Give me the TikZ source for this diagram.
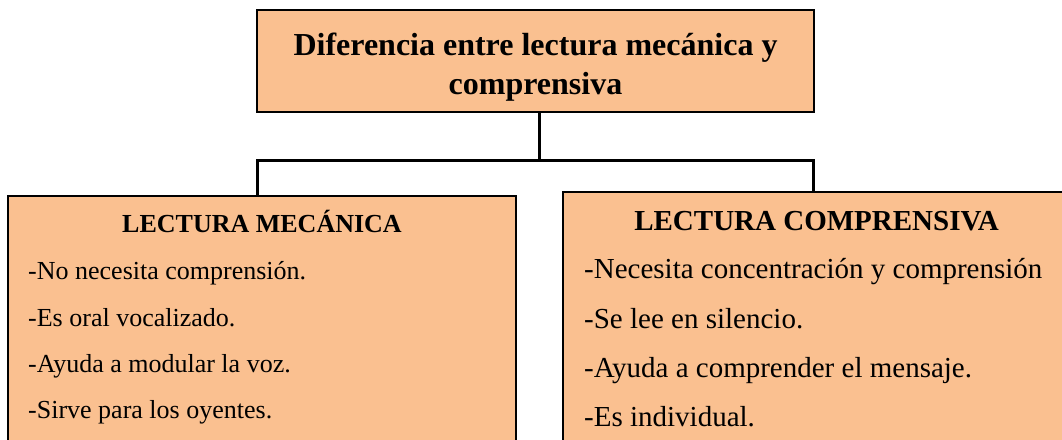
\documentclass[tikz,border=0pt]{standalone}
\usepackage{fontspec}
\setmainfont{Liberation Serif}
\definecolor{peach}{HTML}{FAC090}
\begin{document}
\begin{tikzpicture}[x=1pt,y=-1pt,
  boxstyle/.style={draw=black,line width=1.5pt,fill=peach,rectangle,inner sep=0pt},
  link/.style={draw=black,line width=3pt},
  titletext/.style={font=\fontsize{32}{39}\selectfont\bfseries,align=center,inner sep=0pt},
  headL/.style={font=\fontsize{26}{30}\selectfont\bfseries,inner sep=0pt,anchor=base},
  itemL/.style={font=\fontsize{26}{30}\selectfont,inner sep=0pt,anchor=base west},
  headR/.style={font=\fontsize{29}{33}\selectfont\bfseries,inner sep=0pt,anchor=base},
  itemR/.style={font=\fontsize{29}{33}\selectfont,inner sep=0pt,anchor=base west}]
\useasboundingbox[fill=white] (0,0) rectangle (1062,439);
% boxes
\node[boxstyle,minimum width=557pt,minimum height=102pt] (top) at (535.5,61) {};
\node[boxstyle,minimum width=508pt,minimum height=249pt] (left) at (262,320.5) {};
\node[boxstyle,minimum width=512pt,minimum height=253pt] (right) at (819,318.5) {};
% title
\node[titletext] (title) at (535.5,67) {Diferencia entre lectura mecánica y\\comprensiva};
% connectors
\coordinate (j) at (539,160);
\coordinate (hl) at (257,160);
\coordinate (hr) at (813,160);
\draw[link] (top.south -| j) -- (j);
\draw[link,line cap=rect] (hl) -- (hr);
\draw[link] (hl) -- (hl |- left.north);
\draw[link] (hr) -- (hr |- right.north);
% left texts
\node[headL] (lh) at (262,232) {LECTURA MECÁNICA};
\node[itemL] (l1) at (28,279) {-No necesita comprensión.};
\node[itemL] (l2) at (28,326) {-Es oral vocalizado.};
\node[itemL] (l3) at (28,372) {-Ayuda a modular la voz.};
\node[itemL] (l4) at (28,418) {-Sirve para los oyentes.};
% right texts
\node[headR] (rh) at (816.5,230) {LECTURA COMPRENSIVA};
\node[itemR] (r1) at (584,278) {-Necesita concentración y comprensión};
\node[itemR] (r2) at (584,328) {-Se lee en silencio.};
\node[itemR] (r3) at (584,377) {-Ayuda a comprender el mensaje.};
\node[itemR] (r4) at (584,426) {-Es individual.};
\end{tikzpicture}
\end{document}
